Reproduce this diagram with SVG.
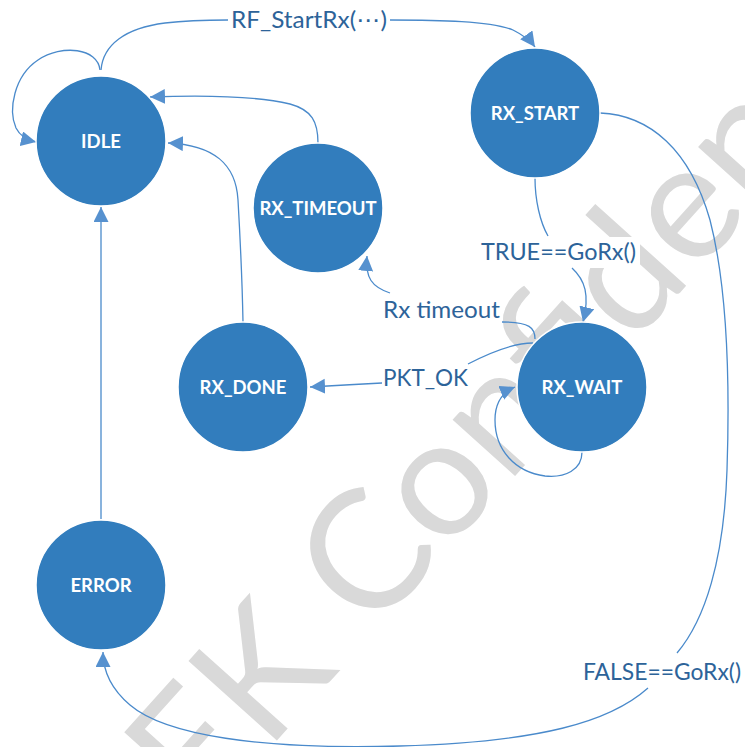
<svg xmlns="http://www.w3.org/2000/svg" width="745" height="747" viewBox="0 0 745 747">
  <style>
    .node circle { fill: #327dbd; stroke: #ffffff; stroke-width: 1.5; }
    .node text { font-family: Lato, "Liberation Sans", sans-serif; font-weight: bold; font-size: 18.5px; fill: #ffffff; text-anchor: middle; }
    .edge { fill: none; stroke: #4a8acb; stroke-width: 1.3; }
    .lbl { font-family: Lato, "Liberation Sans", "DejaVu Sans", sans-serif; font-size: 23px; fill: #2d6399; }
    .lblbg { fill: #ffffff; }
    .wm { font-family: Lato, "Liberation Sans", sans-serif; font-size: 166px; fill: #d9d9d9; }
  </style>
  <defs>
    <marker id="arrow" markerUnits="userSpaceOnUse" markerWidth="16" markerHeight="16" refX="15" refY="7.5" orient="auto">
      <path d="M0,0 L15,7.5 L0,15 Z" fill="#5691cf"/>
    </marker>
  </defs>

  <rect width="745" height="747" fill="#ffffff"/>

  <!-- background watermark -->
  <g id="watermark" transform="translate(343,667) rotate(-48)">
    <text class="wm" x="-4" y="0" text-anchor="end">EK</text>
    <text class="wm" x="42" y="0">Confiden</text>
  </g>

  <!-- label backgrounds -->
  <g id="label-backgrounds">
    <rect class="lblbg" x="478" y="237" width="162" height="31"/>
  </g>

  <!-- transitions -->
  <g id="connectors">
    <path class="edge" d="M100,70 C98,48 62,44 38,60 C14,76 8,110 16,128 C20,136 27,140 36,142" marker-end="url(#arrow)"/>
    <path class="edge" d="M101,70 C103,45 125,28 165,23 C190,20 210,20 228,20"/>
    <path class="edge" d="M390,20 C440,20 490,21 513,30 C523,35 530,40 535,47" marker-end="url(#arrow)"/>
    <path class="edge" d="M318,143 C318,122 312,110 290,104 C255,96 200,95 150,97" marker-end="url(#arrow)"/>
    <path class="edge" d="M243,322 C242,270 240,235 238,200 C236,165 215,145 168,143" marker-end="url(#arrow)"/>
    <path class="edge" d="M101,519 L101,207" marker-end="url(#arrow)"/>
    <path class="edge" d="M535,178 C535,200 540,222 548,236"/>
    <path class="edge" d="M572,268 C585,280 590,295 583,322" marker-end="url(#arrow)"/>
    <path class="edge" d="M600,113 C650,115 690,150 710,220 C728,290 730,380 727,470 C724,560 705,620 677,653"/>
    <path class="edge" d="M648,688 C610,722 540,742 400,746 C260,750 165,735 130,705 C110,688 103,670 103,652" marker-end="url(#arrow)"/>
    <path class="edge" d="M535,339 C535,328 530,322 502,322"/>
    <path class="edge" d="M390,293 C372,287 365,278 367,256" marker-end="url(#arrow)"/>
    <path class="edge" d="M533,343 C515,343 495,350 468,364"/>
    <path class="edge" d="M382,383 C360,384 330,386 310,387" marker-end="url(#arrow)"/>
    <path class="edge" d="M582,452 C582,470 565,478 545,476 C515,472 495,450 495,420 C495,402 503,392 515,387" marker-end="url(#arrow)"/>
  </g>

  <!-- transition labels -->
  <g id="edge-labels">
    <text class="lbl" x="231" y="28" textLength="156" lengthAdjust="spacingAndGlyphs">RF_StartRx(⋯)</text>
    <text class="lbl" x="481" y="260" textLength="155" lengthAdjust="spacingAndGlyphs">TRUE==GoRx()</text>
    <text class="lbl" x="383" y="318" textLength="117" lengthAdjust="spacingAndGlyphs">Rx timeout</text>
    <text class="lbl" x="383" y="386" textLength="85" lengthAdjust="spacingAndGlyphs">PKT_OK</text>
    <text class="lbl" x="583" y="680" textLength="158" lengthAdjust="spacingAndGlyphs">FALSE==GoRx()</text>
  </g>

  <!-- states -->
  <g id="IDLE" class="node"><circle cx="101" cy="141" r="65"/><text x="101" y="148">IDLE</text></g>
  <g id="RX_START" class="node"><circle cx="535" cy="113" r="65"/><text x="535" y="120">RX_START</text></g>
  <g id="RX_TIMEOUT" class="node"><circle cx="318" cy="208" r="65"/><text x="318" y="215">RX_TIMEOUT</text></g>
  <g id="RX_DONE" class="node"><circle cx="243" cy="387" r="65"/><text x="243" y="394">RX_DONE</text></g>
  <g id="RX_WAIT" class="node"><circle cx="582" cy="387" r="65"/><text x="582" y="394">RX_WAIT</text></g>
  <g id="ERROR" class="node"><circle cx="101" cy="585" r="65"/><text x="101" y="592">ERROR</text></g>
</svg>
